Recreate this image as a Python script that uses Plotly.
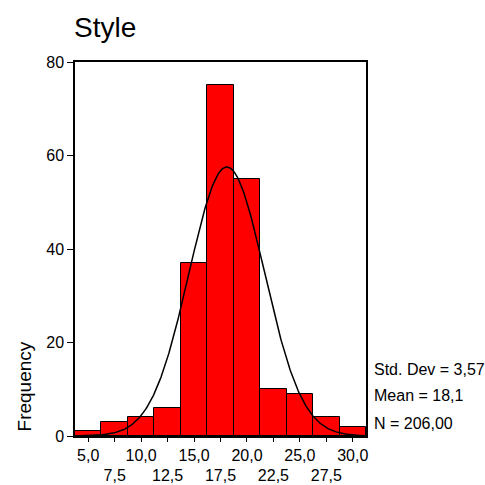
import numpy as np
import plotly.graph_objects as go

# Data
bin_centers = [5.0, 7.5, 10.0, 12.5, 15.0, 17.5, 20.0, 22.5, 25.0, 27.5, 30.0]
frequencies = [1, 3, 4, 6, 37, 75, 55, 10, 9, 4, 2]
bin_width = 2.5
row1_ticks = [5.0, 10.0, 15.0, 20.0, 25.0, 30.0]
row1_labels = ["5,0", "10,0", "15,0", "20,0", "25,0", "30,0"]
row2_ticks = [7.5, 12.5, 17.5, 22.5, 27.5]
row2_labels = ["7,5", "12,5", "17,5", "22,5", "27,5"]
y_ticks = [0, 20, 40, 60, 80]
std_dev = 3.57
mean = 18.1
n_total = 206
title_text = "Style"
stats_lines = ["Std. Dev = 3,57", "Mean = 18,1", "N = 206,00"]

FONT = "Arial, Liberation Sans, sans-serif"

x_lo = bin_centers[0] - bin_width / 2
x_hi = bin_centers[-1] + bin_width / 2

# Normal curve fitted from the displayed mean / sd / N
xs = np.linspace(x_lo, x_hi, 400)
ys = n_total * bin_width / (std_dev * np.sqrt(2 * np.pi)) * np.exp(-0.5 * ((xs - mean) / std_dev) ** 2)

row1_text = [row1_labels[row1_ticks.index(v)] if v in row1_ticks else "" for v in bin_centers]

fig = go.Figure()
fig.add_trace(go.Bar(
    x=bin_centers, y=frequencies, width=bin_width,
    marker=dict(color="#FF0000", line=dict(color="black", width=1)),
    showlegend=False, hoverinfo="skip",
))
fig.add_trace(go.Scatter(
    x=xs, y=ys, mode="lines", line=dict(color="black", width=1.5),
    showlegend=False, hoverinfo="skip", xaxis="x2",
))

fig.update_layout(
    template="none",
    width=485, height=485,
    margin=dict(l=75, r=119, t=62, b=49, autoexpand=False),
    paper_bgcolor="white", plot_bgcolor="white",
    font=dict(family=FONT, color="black", size=16),
    bargap=0,
    title=dict(text=title_text, x=74 / 485, xanchor="left", xref="container",
               y=1 - 27 / 485, yanchor="middle", yref="container",
               font=dict(size=28, family=FONT, color="black")),
    xaxis=dict(range=[x_lo, x_hi], tickvals=bin_centers, ticktext=row1_text,
               ticks="outside", ticklen=4, tickcolor="black", tickwidth=1,
               showline=True, linecolor="black", linewidth=1.5, mirror=True,
               showgrid=False, zeroline=False, automargin=False, tickfont=dict(size=16)),
    xaxis2=dict(range=[x_lo, x_hi], overlaying="x", anchor="y", side="bottom",
                tickvals=row2_ticks, ticktext=row2_labels, ticks="",
                ticklabelstandoff=28, automargin=False,
                showline=False, showgrid=False, zeroline=False, tickfont=dict(size=16)),
    yaxis=dict(range=[0, 80], tickvals=y_ticks, ticktext=[str(v) for v in y_ticks],
               ticks="outside", ticklen=6, tickcolor="black", tickwidth=1,
               showline=True, linecolor="black", linewidth=1.5, mirror=True,
               showgrid=False, zeroline=False, automargin=False, tickfont=dict(size=16)),
)

stat_y = [14.3, 8.6, 2.7]
for txt, yy in zip(stats_lines, stat_y):
    fig.add_annotation(text=txt, xref="paper", yref="y", x=(372 - 75) / 291, y=yy,
                       xanchor="left", yanchor="middle", showarrow=False,
                       font=dict(size=16, family=FONT, color="black"))

fig.add_annotation(text="Frequency", xref="paper", yref="y", x=(24 - 75) / 291, y=10.6,
                   textangle=-90, xanchor="center", yanchor="middle", showarrow=False,
                   font=dict(size=19, family=FONT, color="black"))

fig.write_html("out.html")
